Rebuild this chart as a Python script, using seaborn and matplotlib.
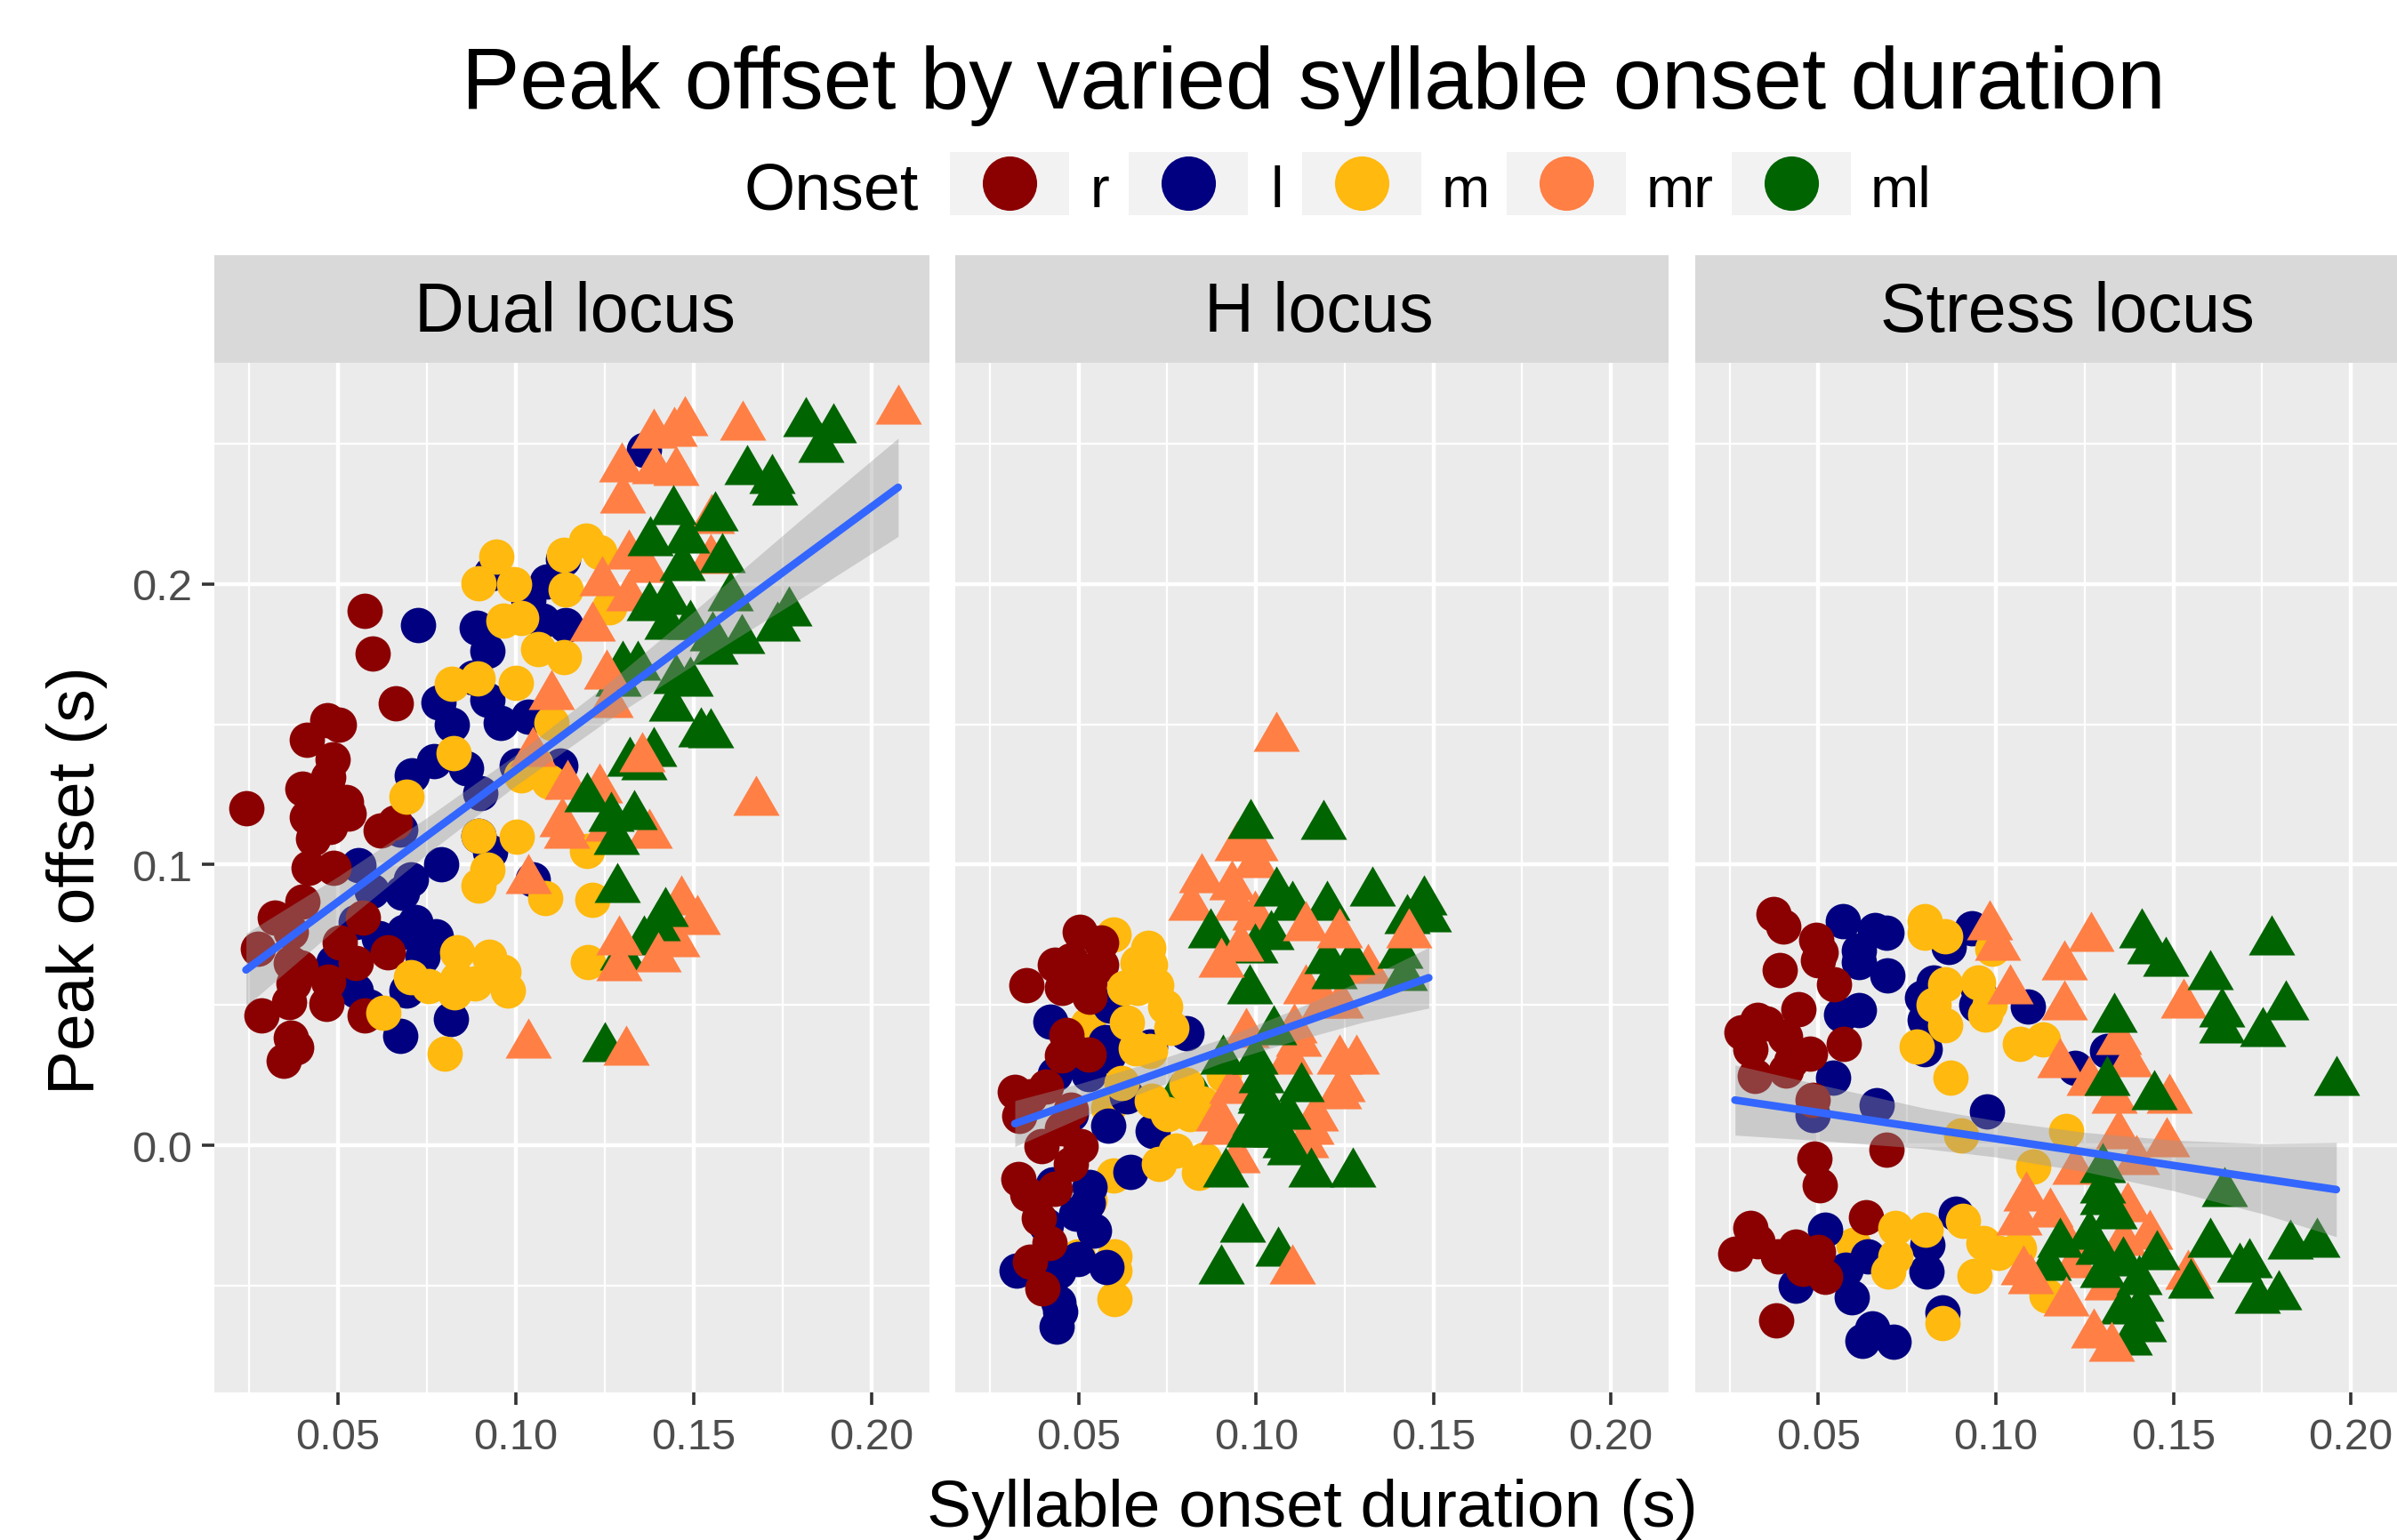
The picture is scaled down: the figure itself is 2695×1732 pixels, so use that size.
import matplotlib
matplotlib.use('Agg')
import matplotlib.pyplot as plt
from matplotlib.patches import Rectangle
from matplotlib.path import Path
from matplotlib.lines import Line2D
from matplotlib.ticker import MultipleLocator
import seaborn as sns
import pandas as pd

W, H = 2695, 1733

onsets = ['r', 'l', 'm', 'mr', 'ml']
panels = ['Dual locus', 'H locus', 'Stress locus']
colors = {'r': '#8B0000', 'l': '#000080', 'm': '#FFB90F', 'mr': '#FF7F45', 'ml': '#006400'}

# Dual locus points
dual_r = [(.0241,.1202),(.0575,.1906),(.0596,.1752),(.0663,.1574),(.0469,.1515),(.0501,.1498),(.0411,.1445),
          (.0484,.1374),(.0472,.1312),(.0400,.1272),(.0446,.1256),(.0523,.1223),(.0484,.1239),(.0530,.1183),
          (.0413,.1170),(.0459,.1167),(.0478,.1134),(.0430,.1094),(.0620,.1121),(.0659,.1150),(.0416,.0989),
          (.0488,.0989),(.0400,.0867),(.0323,.0811),(.0368,.0762),(.0275,.0701),(.0569,.0811),(.0504,.0722),
          (.0640,.0689),(.0549,.0649),(.0368,.0649),(.0394,.0633),(.0374,.0576),(.0472,.0584),(.0284,.0463),
          (.0361,.0511),(.0468,.0503),(.0575,.0463),(.0368,.0385),(.0383,.0350),(.0348,.0301)]
dual_l = [(.1359,.2477),(.0725,.1854),(.0889,.1846),(.0921,.1762),(.0931,.2037),(.1087,.2008),(.1035,.1943),
          (.1074,.1871),(.1139,.1854),(.1132,.2089),(.0880,.1668),(.0921,.1587),(.0782,.1579),(.0821,.1498),
          (.0957,.1506),(.1035,.1527),(.0769,.1369),(.0707,.1320),(.0860,.1345),(.1003,.1353),(.1126,.1353),
          (.0899,.1256),(.0676,.1126),(.0896,.1102),(.0927,.1045),(.0791,.1002),(.0556,.0997),(.0705,.0948),
          (.0679,.0900),(.0595,.0908),(.0718,.0794),(.0549,.0794),(.0614,.0738),(.0776,.0746),(.0685,.0762),
          (.0737,.0673),(.0488,.0654),(.0549,.0552),(.0588,.0495),(.0692,.0552),(.0817,.0450),(.0674,.0390),
          (.1048,.0948)]
dual_m = [(.0944,.2097),(.0896,.2003),(.0996,.2000),(.1197,.2154),(.1135,.2105),(.1236,.2113),(.1139,.1981),
          (.0966,.1871),(.1015,.1879),(.1262,.1919),(.1063,.1769),(.1135,.1741),(.0819,.1644),(.0893,.1665),
          (.0999,.1649),(.1100,.1506),(.0825,.1398),(.1054,.1361),(.1016,.1320),(.1093,.1296),(.0692,.1243),
          (.0895,.1102),(.1003,.1099),(.0921,.0981),(.0895,.0927),(.1199,.1050),(.1083,.0880),(.1216,.0875),
          (.1203,.0652),(.0834,.0689),(.0925,.0673),(.0964,.0617),(.0756,.0568),(.0834,.0592),(.0886,.0576),
          (.0977,.0552),(.0705,.0600),(.0828,.0544),(.0627,.0471),(.0799,.0325)]
dual_mr = [(.2075,.2617),(.1637,.2560),(.1475,.2576),(.1445,.2539),(.1387,.2532),(.1298,.2413),(.1391,.2406),
           (.1449,.2400),(.1301,.2301),(.1551,.2228),(.1547,.2086),(.1317,.2102),(.1365,.2053),(.1242,.2005),
           (.1317,.1953),(.1216,.1846),(.1100,.1600),(.1048,.1398),
           (.1145,.1280),(.1236,.1269),(.1130,.1147),(.1142,.1107),(.1258,.1131),(.1376,.1107),(.1676,.1223),
           (.1035,.0945),(.1465,.0867),(.1510,.0799),(.1452,.0718),
           (.1035,.0359)]
dual_mr_top = [(.1255,.1673),(.1264,.1573),(.1356,.1379),(.1290,.0726),(.1291,.0633),(.1310,.0333),(.1401,.0667)]
dual_ml = [(.1815,.2574),(.1892,.2552),(.1858,.2482),(.1650,.2401),(.1721,.2371),(.1727,.2328),(.1442,.2261),
           (.1559,.2239),(.1378,.2150),(.1479,.2159),(.1468,.2061),(.1579,.2089),(.1376,.1916),(.1428,.1940),
           (.1424,.1851),(.1491,.1851),(.1602,.1953),(.1767,.1900),(.1735,.1843),(.1635,.1799),(.1553,.1811),
           (.1560,.1762),(.1301,.1705),(.1342,.1705),(.1288,.1649),(.1491,.1649),(.1449,.1657),(.1437,.1560),
           (.1521,.1468),(.1547,.1463),(.1320,.1362),(.1387,.1398),(.1361,.1350),(.1201,.1236),(.1268,.1167),
           (.1333,.1172),(.1283,.1083),(.1285,.0913),(.1420,.0827),(.1397,.0775),(.1359,.0726),(.1301,.0673),
           (.1249,.0346)]

# H locus points
h_r = [(.0503,.0760),(.0564,.0723),(.0434,.0642),(.0479,.0658),(.0352,.0569),(.0564,.0642),(.0518,.0610),
       (.0453,.0561),(.0531,.0529),(.0531,.0577),(.0466,.0392),(.0453,.0319),(.0529,.0324),(.0320,.0190),
       (.0408,.0210),(.0333,.0105),(.0363,.0174),(.0479,.0126),(.0395,-.0003),(.0453,.0061),(.0505,-.0003),
       (.0479,-.0068),(.0330,-.0119),(.0356,-.0173),(.0434,-.0156),(.0388,-.0261),(.0418,-.0350),(.0363,-.0415),
       (.0398,-.0511)]
h_l = [(.0421,.0440),(.0804,.0400),(.0589,.0497),(.0577,.0368),(.0486,.0335),(.0434,.0255),(.0527,.0255),
       (.0583,.0319),(.0700,.0352),(.0635,.0174),(.0479,.0110),(.0583,.0069),(.0709,.0050),(.0645,-.0095),
       (.0427,-.0140),(.0531,-.0148),(.0525,-.0205),(.0492,-.0245),(.0544,-.0305),(.0408,-.0285),(.0324,-.0447),
       (.0444,-.0450),(.0578,-.0435),(.0444,-.0560),(.0447,-.0592),(.0438,-.0648),(.0499,-.0406)]
h_m = [(.0599,.0752),(.0697,.0703),(.0667,.0650),(.0700,.0642),(.0628,.0561),(.0719,.0569),(.0667,.0561),
       (.0745,.0494),(.0525,.0432),(.0635,.0437),(.0762,.0419),(.0661,.0344),(.0700,.0335),(.0910,.0250),
       (.0622,.0223),(.0804,.0215),(.0706,.0158),(.0752,.0110),(.0813,.0110),(.0849,.0150),(.0583,.0134),
       (.0774,-.0019),(.0726,-.0068),(.0853,-.0052),(.0839,-.0097),(.0599,-.0108),(.0531,-.0197),(.0499,-.0395),
       (.0602,-.0395),(.0601,-.0447),(.0601,-.0548)]
h_mr = [(.1056,.1450),(.0946,.1063),(.0998,.1063),(.0998,.1002),(.0846,.0948),(.0933,.0921),(.0816,.0848),
        (.0945,.0848),(.0998,.0816),
        (.1141,.0550),(.1193,.0502),(.1238,.0502),(.1316,.0623),(.0972,.0397),(.1108,.0413),(.1121,.0365),
        (.1095,.0300),(.1234,.0300),(.1283,.0300),(.1244,.0203),(.1232,.0179),(.0933,.0195),(.0894,.0098),
        (.1167,.0098),(.1154,.0050),(.0907,.0050),(.1141,.0002),(.0946,-.0052)]
h_mr_top = [(.1430,.0752),(.0901,.0647),(.1235,.0752),(.1141,.0776),(.1102,-.0447),(.0957,.0703)]
h_ml = [(.0985,.1142),(.1190,.1139),(.1056,.0900),(.1102,.0848),(.1199,.0848),(.1329,.0900),(.1426,.0803),
        (.1474,.0869),(.1487,.0808),(.0872,.0752),(.1043,.0744),(.0998,.0698),(.0982,.0550),(.1199,.0658),
        (.1270,.0655),(.1405,.0679),(.1219,.0606),(.1418,.0598),(.1050,.0405),(.0907,.0300),(.0998,.0300),
        (.1128,.0203),(.1011,.0163),(.0998,.0082),(.1024,.0042),(.1056,.0042),(.1082,.0002),(.1095,-.0023),
        (.0765,.0158),(.0849,.0150),(.0914,-.0100),(.1154,-.0100),(.1273,-.0100),(.0962,-.0297),(.1063,-.0385),
        (.0901,-.0447),(.1014,.0174),(.0979,.0042),(.1037,.0106),(.1089,.0106),(.1014,.0235)]

# Stress locus points
stress_r = [(.0373,.0823),(.0402,.0780),(.0494,.0732),(.0506,.0689),(.0500,.0659),(.0544,.0574),(.0392,.0625),
            (.0443,.0485),(.0328,.0447),(.0284,.0404),(.0354,.0434),(.0309,.0343),(.0405,.0386),(.0475,.0325),
            (.0572,.0362),(.0424,.0301),(.0322,.0246),(.0409,.0265),(.0485,.0161),(.0691,-.0015),(.0489,-.0047),
            (.0504,-.0142),(.0633,-.0257),(.0309,-.0294),(.0328,-.0342),(.0265,-.0388),(.0386,-.0397),(.0436,-.0360),
            (.0456,-.0439),(.0500,-.0379),(.0519,-.0470),(.0382,-.0624)]
stress_l = [(.0570,.0799),(.0658,.0768),(.0691,.0756),(.0614,.0695),(.0614,.0653),(.0693,.0604),(.0868,.0708),
            (.0932,.0774),(.0824,.0580),(.0792,.0525),(.0951,.0556),(.0945,.0501),(.1091,.0495),(.0614,.0483),
            (.0564,.0465),(.0799,.0447),(.0799,.0343),(.1224,.0277),(.1313,.0337),(.0542,.0240),(.0485,.0107),
            (.0664,.0143),(.0976,.0121),(.0519,-.0300),(.0888,-.0245),(.0807,-.0354),(.0805,-.0451),(.0640,-.0397),
            (.0576,-.0445),(.0436,-.0500),(.0593,-.0542),(.0652,-.0652),(.0623,-.0698),(.0712,-.0700),(.0849,-.0597)]
stress_m = [(.0799,.0799),(.0799,.0756),(.0856,.0744),(.0989,.0701),(.0856,.0574),(.0951,.0580),(.0824,.0501),
            (.0983,.0501),(.0970,.0465),(.0856,.0428),(.0777,.0352),(.1068,.0362),(.1132,.0377),(.0872,.0240),
            (.1199,.0052),(.0903,.0034),(.1104,-.0075),(.0716,-.0294),(.0801,-.0300),(.0599,-.0354),(.0907,-.0269),
            (.0964,-.0348),(.1008,-.0385),(.0716,-.0397),(.0697,-.0451),(.0941,-.0466),(.1065,-.0367),(.1142,-.0536),
            (.0849,-.0633)]
stress_mr = [(.0983,.0779),(.1006,.0706),(.1269,.0740),(.1193,.0637),(.1040,.0552),(.1193,.0494),(.1529,.0501),
             (.1377,.0291),(.1345,.0370),(.1180,.0289),(.1262,.0225),(.1489,.0161),(.1333,.0161),(.1345,.0036),
             (.1481,.0006),(.1396,-.0058),(.1224,-.0091),(.1085,-.0188),(.1154,-.0243),(.1065,-.0273),(.1370,-.0224),
             (.1434,-.0322),(.1199,-.0347),(.1224,-.0426),(.1542,-.0467),
             (.1313,-.0503),(.1358,-.0346)]
stress_mr_top = [(.1078,-.0451),(.1097,-.0483),(.1275,-.0674),(.1326,-.0722),(.1199,-.0561)]
stress_ml = [(.1411,.0752),(.1434,.0695),(.1478,.0649),(.1777,.0727),(.1603,.0601),(.1818,.0494),(.1332,.0449),
             (.1637,.0470),(.1637,.0413),(.1752,.0400),(.1959,.0225),(.1313,.0225),(.1447,.0174),(.1300,-.0085),
             (.1644,-.0170),(.1300,-.0158),(.1300,-.0200),(.1332,-.0249),(.1603,-.0352),(.1830,-.0358),(.1904,-.0352),
             (.1180,-.0352),(.1262,-.0322),(.1453,-.0397),(.1713,-.0425),(.1687,-.0441),(.1147,-.0433),(.1288,-.0376),
             (.1358,-.0419),(.1300,-.0458),(.1404,-.0485),(.1548,-.0498),(.1796,-.0540),(.1736,-.0552),(.1358,-.0589),
             (.1408,-.0579),(.1416,-.0652),(.1377,-.0700)]

# fit lines and their bands
dual_fit_x = [.0241, .05, .075, .10, .125, .15, .18, .2075]
dual_fit_y = [.0625, .0868, .1103, .1337, .1572, .1807, .2088, .2345]
dual_fit_half = [.0130, .0090, .0065, .0055, .0065, .0095, .0140, .0175]
h_fit_x = [.032, .05, .07, .09, .11, .13, .1487]
h_fit_y = [.0077, .0157, .0246, .0335, .0424, .0513, .0597]
h_fit_half = [.0082, .0062, .0048, .0043, .0055, .0075, .0108]
stress_fit_x = [.0265, .05, .08, .10, .125, .15, .175, .1959]
stress_fit_y = [.0161, .0117, .0060, .0023, -.0024, -.0072, -.0119, -.0158]
stress_fit_half = [.0125, .0100, .0072, .0065, .0070, .0090, .0125, .0168]

points = {
    'Dual locus': {'r': dual_r, 'l': dual_l, 'm': dual_m, 'mr': dual_mr, 'ml': dual_ml, 'top': dual_mr_top},
    'H locus': {'r': h_r, 'l': h_l, 'm': h_m, 'mr': h_mr, 'ml': h_ml, 'top': h_mr_top},
    'Stress locus': {'r': stress_r, 'l': stress_l, 'm': stress_m, 'mr': stress_mr, 'ml': stress_ml, 'top': stress_mr_top},
}
fits = {
    'Dual locus': (dual_fit_x, dual_fit_y, dual_fit_half),
    'H locus': (h_fit_x, h_fit_y, h_fit_half),
    'Stress locus': (stress_fit_x, stress_fit_y, stress_fit_half),
}

sns.set_theme(style='darkgrid', rc={'axes.facecolor': '#EBEBEB', 'grid.color': 'white'})
plt.rcParams['font.family'] = ['Liberation Sans', 'DejaVu Sans']

# equilateral triangle centred like ggplot's shape 17
triangle = Path([(-1, -.577), (1, -.577), (0, 1.155), (-1, -.577)], closed=True)

fig = plt.figure(figsize=(W / 200, H / 200), dpi=200)

boxes = [(241, 1045), (1074, 1876), (1906, 2695)]
strip_centers = [646, 1483, 2324]
xlims = [(.0152, .2163), (.0152, .2163), (.0153, .2130)]
top, bottom = 409, 1567

def fx(px):
    return px / W

def fy(px):
    return 1 - px / H

def draw(ax, pts, color, tri=False):
    if len(pts) == 0:
        return
    df = pd.DataFrame(pts, columns=['dur', 'peak'])
    if tri:
        sns.scatterplot(data=df, x='dur', y='peak', ax=ax, marker=triangle, s=470, color=color, linewidth=0)
    else:
        sns.scatterplot(data=df, x='dur', y='peak', ax=ax, marker='o', s=205, color=color, linewidth=0)

for i, panel in enumerate(panels):
    left, right = boxes[i]
    ax = fig.add_axes([fx(left), fy(bottom), (right - left) / W, (bottom - top) / H])
    ax.set_xlim(*xlims[i])
    ax.set_ylim(-.0881, .2789)
    ax.set_axisbelow(True)
    ax.xaxis.set_major_locator(MultipleLocator(.05))
    ax.xaxis.set_minor_locator(MultipleLocator(.025))
    ax.yaxis.set_major_locator(MultipleLocator(.1))
    ax.yaxis.set_minor_locator(MultipleLocator(.05))
    ax.grid(which='major', color='white', linewidth=1.6)
    ax.grid(which='minor', color='white', linewidth=.8)
    for s in ax.spines.values():
        s.set_visible(False)

    # overplotting order follows the picture: short yellows and greens sit under the rest
    p = points[panel]
    draw(ax, [q for q in p['ml'] if q[0] < .086], colors['ml'], tri=True)
    draw(ax, [q for q in p['m'] if q[0] < .0605], colors['m'])
    draw(ax, p['l'], colors['l'])
    draw(ax, p['r'], colors['r'])
    draw(ax, [q for q in p['m'] if q[0] >= .0605], colors['m'])
    draw(ax, p['mr'], colors['mr'], tri=True)
    draw(ax, [q for q in p['ml'] if q[0] >= .086], colors['ml'], tri=True)
    draw(ax, p['top'], colors['mr'], tri=True)

    fit_x, fit_y, fit_half = fits[panel]
    lo = [y - h for y, h in zip(fit_y, fit_half)]
    hi = [y + h for y, h in zip(fit_y, fit_half)]
    ax.fill_between(fit_x, lo, hi, color='#999999', alpha=.4, linewidth=0, zorder=3)
    sns.lineplot(x=fit_x, y=fit_y, ax=ax, color='#3366FF', linewidth=3.1, errorbar=None, zorder=4)

    ax.set_xlabel('')
    ax.set_ylabel('')
    ax.set_xticks([.05, .10, .15, .20])
    ax.set_xticklabels(['0.05', '0.10', '0.15', '0.20'])
    ax.tick_params(axis='x', which='major', length=5, width=1.3, color='#333333',
                   labelsize=17.6, labelcolor='#4D4D4D', pad=5, bottom=True)
    if i == 0:
        ax.set_yticks([0, .1, .2])
        ax.set_yticklabels(['0.0', '0.1', '0.2'])
        ax.tick_params(axis='y', which='major', length=5, width=1.3, color='#333333',
                       labelsize=17.6, labelcolor='#4D4D4D', pad=4, left=True)
    else:
        ax.tick_params(axis='y', which='both', left=False, labelleft=False)
    ax.tick_params(which='minor', length=0)

    # facet strip
    fig.add_artist(Rectangle((fx(left), fy(top)), (right - left) / W, 121 / H,
                             transform=fig.transFigure, facecolor='#D9D9D9', edgecolor='none'))
    fig.text(fx(strip_centers[i]), fy(352), panel, fontsize=27.8, color='black', ha='center', va='center')

fig.text(fx(1477), fy(96), 'Peak offset by varied syllable onset duration', fontsize=35.3, ha='center', va='center', color='black')
fig.text(fx(1475), fy(1698), 'Syllable onset duration (s)', fontsize=27, ha='center', va='center', color='black')
fig.text(fx(87), fy(990), 'Peak offset (s)', fontsize=27, rotation=90, ha='center', va='center', color='black')

# legend row
fig.text(fx(836), fy(235), 'Onset', fontsize=26.5, ha='left', va='baseline', color='black')
key_left = [1068, 1269, 1464, 1694, 1947]
label_left = [1226, 1429, 1621, 1851, 2103]
for onset, kx, lx in zip(onsets, key_left, label_left):
    fig.add_artist(Rectangle((fx(kx), fy(243)), 134 / W, 71 / H, transform=fig.transFigure,
                             facecolor='#F2F2F2', edgecolor='none'))
    fig.add_artist(Line2D([fx(kx + 67)], [fy(207)], transform=fig.transFigure, marker='o', markersize=22,
                          markerfacecolor=colors[onset], markeredgewidth=0, linestyle='none'))
    fig.text(fx(lx), fy(233), onset, fontsize=23.5, ha='left', va='baseline', color='black')

plt.savefig('out.png', dpi=200)
